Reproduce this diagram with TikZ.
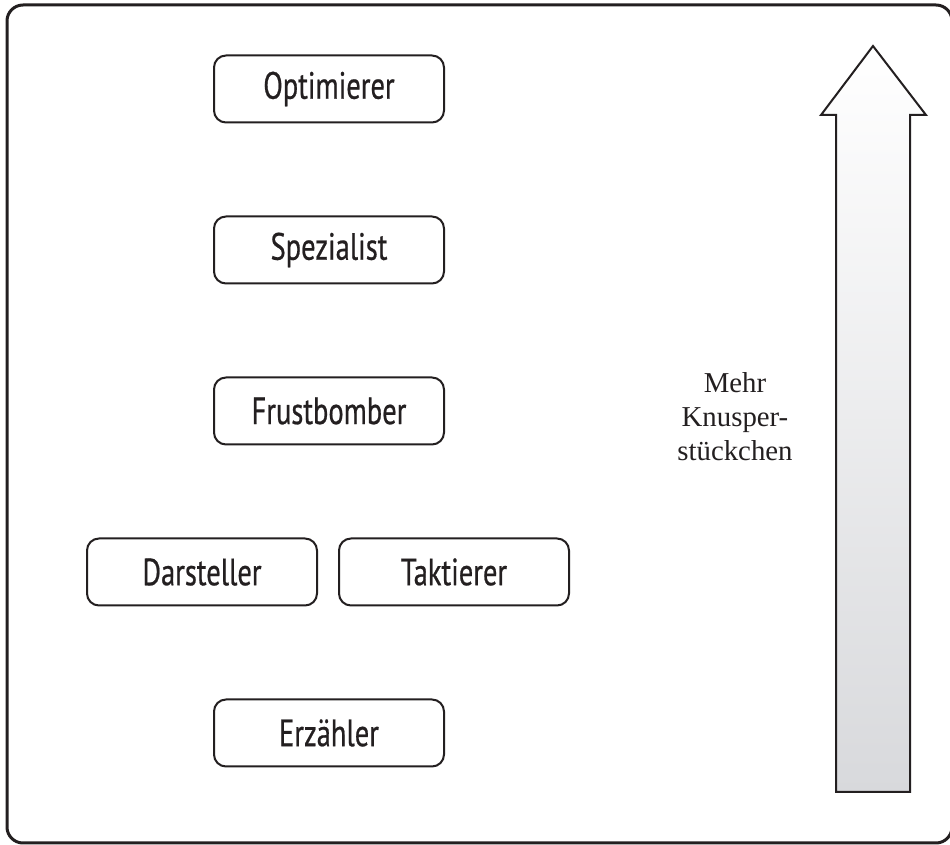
\documentclass[tikz,border=0pt]{standalone}
\usepackage{fontspec}
\setmainfont{Liberation Serif}
\newfontfamily\boxfont[FakeStretch=0.75,FakeBold=0.6]{PT Sans}
\definecolor{arrowgray}{RGB}{216,217,220}
\definecolor{inkgray}{RGB}{35,31,32}

\begin{document}
\begin{tikzpicture}[x=0.5pt,y=-0.5pt,
        typbox/.style={draw=inkgray, line width=1pt, rounded corners=6pt, minimum width=115pt, minimum height=33.5pt, inner sep=0pt, text=inkgray, font=\boxfont\fontsize{19}{22}\selectfont}]
            \useasboundingbox (0,0) rectangle (950,845);
            \draw[inkgray, line width=1.5pt, rounded corners=8pt] (7,5) rectangle (952,843);
            % Spielertypen
            \node[typbox] (optimierer) at (329,89) {Optimierer};
            \node[typbox] (spezialist) at (329,250) {Spezialist};
            \node[typbox] (frustbomber) at (329,411) {Frustbomber};
            \node[typbox] (darsteller) at (202,572) {Darsteller};
            \node[typbox] (taktierer) at (454,572) {Taktierer};
            \node[typbox] (erzaehler) at (329,733) {Erzähler};
            % Pfeil
            \draw[inkgray, line width=1pt, top color=white, middle color=white!97!black, bottom color=arrowgray]
                (836,792) -- (836,115) -- (821,115) -- (873,46) -- (926,115) -- (910,115) -- (910,792) -- cycle;
            \node[align=center, text=inkgray, font=\fontsize{14.4}{17}\selectfont] (knusper) at (735,417) {Mehr\\Knusper-\\stückchen};
        \end{tikzpicture}
\end{document}
